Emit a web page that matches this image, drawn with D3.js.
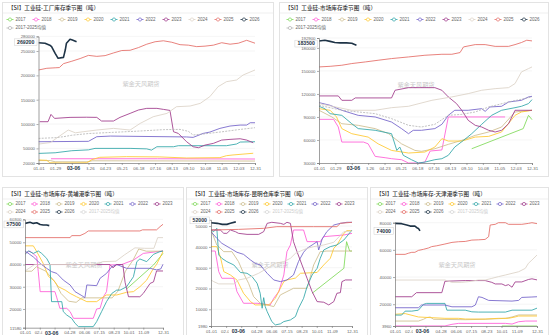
<!DOCTYPE html>
<html>
<head>
<meta charset="utf-8">
<script src="https://cdn.jsdelivr.net/npm/d3@7"></script>
<style>
  body { margin: 0; background: #fff; }
  svg { display: block; font-family: "Liberation Sans", "Noto Sans CJK SC", sans-serif; }
</style>
</head>
<body>
<svg id="chart" width="550" height="335"></svg>
<script>
// ---- data: [day of year (0 = 01-01), tonnes] ----
const years = ['2017', '2018', '2019', '2020', '2021', '2022', '2023', '2024', '2025', '2026'];
const meanLabel = '2017-2025均值';
const xTicksWeekly = ['01-01', '01-29', '02-26', '03-26', '04-23', '05-21', '06-18', '07-16', '08-13', '09-10', '10-08', '11-05', '12-03', '12-31'];
const xTicksPort = ['01-01', '02-09', '03-20', '04-28', '06-06', '07-15', '08-23', '10-01', '11-09', '12-31'];
const markDay = '03-06';

// 工厂库存
const fac2017 = [];
const fac2018 = [[21,28700],[200,28700],[364,28200]];
const fac2019 = [[0,25000],[20,25000],[28,22500],[84,22500],[90,24500],[364,24000]];
const fac2020 = [[0,26200],[14,25500],[19,20500],[40,20000],[81,20500],[90,27000],[103,31700],[148,33000],[204,32500],[249,30300],[305,31000],[316,35000],[327,36500],[361,40000]];
const fac2021 = [[0,39700],[28,41000],[56,45200],[84,47000],[95,50000],[154,50000],[182,49000],[190,46500],[199,53400],[227,53400],[235,55500],[316,55500],[333,59000],[339,63000],[364,63700]];
const fac2022 = [[0,63700],[84,64500],[98,74000],[121,75300],[249,73500],[260,72600],[277,80800],[288,83500],[305,91100],[322,95900],[339,97900],[350,97900],[356,102700],[364,102700]];
const fac2023 = [[2,104800],[16,104800],[21,119800],[27,111600],[53,113700],[81,114000],[98,113700],[106,106200],[126,106200],[137,113700],[154,121900],[168,128800],[182,132200],[199,132200],[210,130100],[221,128000],[227,84200],[235,80800],[249,63700],[260,53400],[269,51400],[280,56800],[294,60300],[308,67100],[322,68500],[339,69800],[350,67100],[361,61600]];
const fac2024 = [[0,58900],[20,62000],[35,75000],[50,87700],[62,82000],[75,84200],[98,87700],[126,91100],[154,87700],[171,101400],[193,115100],[216,121900],[232,135600],[255,137000],[272,142500],[288,156200],[302,176700],[316,187000],[333,190400],[344,200700],[364,211000]];
const fac2025 = [[0,211000],[14,214500],[28,215500],[35,216000],[42,224000],[56,229000],[70,234500],[84,241000],[98,239000],[112,240500],[126,246000],[140,251000],[154,251500],[168,257000],[182,264000],[196,269000],[210,271000],[224,268000],[238,263000],[252,262000],[266,259000],[280,260000],[294,262000],[308,267000],[322,264000],[336,266000],[350,272000],[364,266000]];
const fac2026 = [[0,267000],[11,266000],[19,262000],[22,259000],[28,245000],[33,235000],[42,237000],[45,252000],[47,266000],[53,274000],[57,272600],[64,269200]];
const facMean = [[0,70500],[28,72000],[42,74000],[56,77000],[84,80500],[126,83000],[168,85500],[210,88500],[238,89000],[252,85000],[260,77500],[280,80000],[308,84000],[336,88500],[364,92500]];

// 市场库存
const mkt2017 = [[261,48600],[349,74800],[358,92100],[364,86500]];
const mkt2018 = [[0,86900],[25,86900],[33,76900],[39,57300],[76,57300],[84,55000],[96,38600],[113,36900],[124,35600],[141,34300],[153,30000],[170,30000],[181,31200],[190,45600],[210,47000],[221,90000],[318,90000]];
const mkt2019 = [[0,98700],[22,90000],[39,81200],[67,79100],[96,74800],[119,68200],[141,55000],[164,46400],[175,45200],[198,48600],[221,54300],[244,59500],[267,66000],[290,70400],[312,76900],[335,96500],[364,98700]];
const mkt2020 = [[0,100800],[19,98700],[30,90000],[39,74800],[56,68200],[84,63800],[101,55000],[124,46400],[153,43000],[181,44300],[198,50800],[210,61700],[221,58600],[244,58600],[267,63800],[290,64700],[312,70400],[335,92100],[346,96500],[364,98700]];
const mkt2021 = [[0,103900],[10,100800],[19,94300],[39,92100],[56,81200],[67,74800],[96,72600],[124,68200],[133,46400],[138,50800],[144,40000],[158,34300],[170,30000],[181,31200],[198,34300],[210,35600],[221,40000],[232,50800],[247,59500],[261,68200],[278,80400],[295,92100],[312,98700],[335,102100],[346,103900],[358,107400],[364,112600]];
const mkt2022 = [[0,108700],[19,105200],[39,98700],[67,92100],[96,90000],[124,83400],[141,74800],[153,68200],[161,72600],[175,72600],[198,74800],[210,80400],[221,92100],[232,98700],[255,98700],[278,100800],[284,97300],[292,103000],[312,103900],[324,109500],[346,111700],[358,116100],[364,116900]];
const mkt2023 = [[0,117400],[33,117400],[39,111700],[56,111700],[62,114800],[124,114800],[130,124800],[153,128200],[198,128200],[210,124800],[221,116100],[235,107400],[244,98700],[255,85600],[267,79100],[278,76900],[290,72600],[301,70400],[312,72600],[324,81200],[335,98700],[364,98700]];
const mkt2024 = [[0,107400],[56,98700],[96,98700],[124,102100],[153,103900],[193,111700],[227,116100],[255,120400],[278,124800],[301,126900],[324,128200],[335,133500],[346,148700],[358,153000],[364,155200]];
const mkt2025 = [[0,155200],[19,156000],[39,157400],[56,159600],[79,161700],[101,163900],[124,166100],[153,168200],[181,170400],[210,171700],[227,171700],[241,173900],[247,181300],[267,184300],[284,184300],[301,182000],[324,182000],[335,184300],[346,187000],[355,190000],[364,189100]];
const mkt2026 = [[0,189000],[10,190000],[19,188500],[27,187000],[36,186500],[47,186500],[56,186000],[64,183500]];
const mktMean = [[0,105200],[39,98700],[96,94300],[124,87800],[153,79100],[175,76900],[198,80400],[221,92100],[244,93400],[267,96500],[290,103000],[324,109500],[364,116100]];

// 黄埔港
const hp2017 = [[268,29000],[339,39800],[364,45000]];
const hp2018 = [[0,45000],[13,46100],[31,43500],[35,36800],[40,27800],[79,27800],[84,25000],[92,20300],[110,20300],[119,18800],[128,15800],[180,15800],[189,20000],[198,20300],[207,25500],[215,27800],[224,39800],[255,40000],[286,42000],[312,45000],[364,46100]];
const hp2019 = [[0,37000],[18,37000],[30,39000],[55,37000],[80,32000],[95,27000],[115,23500],[135,23000],[150,25000],[230,25000],[245,28000],[265,37000],[285,42000],[300,47000],[320,46000],[364,46000]];
const hp2020 = [[0,48400],[22,48400],[31,45800],[48,40500],[62,34600],[75,33000],[88,30000],[106,28500],[119,27000],[136,25500],[163,23300],[189,23300],[207,25500],[215,26300],[242,26300],[268,27500],[286,27800],[303,30000],[321,33000],[339,38300],[347,40000],[364,45800]];
const hp2021 = [[0,44600],[9,46100],[22,45000],[35,46100],[44,45000],[57,42800],[66,40000],[70,23300],[97,23300],[101,18800],[110,17300],[123,15800],[132,13550],[141,12050],[180,12050],[189,14300],[202,18800],[215,23300],[229,27000],[242,28500],[251,28500],[268,30000],[286,34500],[295,41300],[303,42500],[321,41300],[339,44600],[356,45800],[364,46100]];
const hp2022 = [[0,46100],[22,43400],[40,40500],[57,38300],[70,36800],[84,36000],[101,33000],[119,30800],[132,27800],[150,26000],[158,25100],[163,30800],[189,30500],[198,33800],[215,36000],[229,39000],[242,40000],[268,38300],[330,38300],[347,37600],[358,38000],[364,40100]];
const hp2023 = [[0,40000],[224,40000],[232,38500],[242,40000],[258,40000],[264,32000],[273,25500],[303,25500],[312,27000],[330,31500],[339,32200],[347,37100],[364,37100]];
const hp2024 = [[0,37100],[25,40000],[185,40000],[205,41300],[240,41500],[262,44300],[290,47500],[315,47300],[340,47300],[350,52100],[364,52100]];
const hp2025 = [[0,52100],[119,52100],[123,53000],[145,53000],[158,54000],[167,55100],[303,55100],[310,55600],[347,55600],[356,57000],[364,58100]];
const hp2026 = [[0,58500],[13,59000],[22,58500],[31,58800],[40,58000],[48,57800],[57,57800],[64,57500]];

// 昆明仓库
const km2017 = [[261,17700],[343,29700],[350,42500],[358,38000],[364,38000]];
const km2018 = [[0,38000],[11,38000],[20,28100],[28,24900],[59,24900],[67,18500],[84,12900],[119,12900],[153,12100],[162,15300],[175,18500],[188,26500],[196,37700],[205,40900],[213,48100],[239,48100],[248,42500],[282,42500],[291,44900],[343,45700],[364,46500]];
const km2019 = [[0,48100],[15,40900],[33,37700],[54,37700],[71,32900],[84,27300],[97,22500],[110,16100],[127,12900],[145,12100],[162,11300],[179,16900],[196,18500],[213,20100],[248,20100],[265,31300],[282,37700],[299,38000],[364,38000]];
const km2020 = [[0,40100],[15,40100],[24,35300],[33,28100],[50,26500],[67,24100],[84,17700],[102,13700],[114,12100],[149,12100],[166,15300],[179,20100],[188,23300],[196,24100],[218,25000],[231,27300],[274,27700],[291,31300],[308,34500],[317,39300],[325,40900],[343,46500],[351,47800],[364,47800]];
const km2021 = [[0,48100],[7,47300],[15,48900],[20,36100],[28,34500],[41,32900],[59,31300],[76,27700],[93,27300],[106,25700],[119,22500],[127,17700],[132,10500],[136,15600],[140,11300],[145,8900],[157,4100],[166,2500],[179,3000],[188,4100],[205,4900],[218,6500],[226,10500],[239,15300],[248,20900],[261,26500],[274,29700],[282,34500],[291,38500],[308,40100],[325,40900],[343,43300],[355,46000],[364,48100]];
const km2022 = [[0,47300],[15,44100],[28,41700],[50,39300],[67,37400],[84,36400],[102,33700],[114,32100],[127,31300],[145,27300],[162,24100],[179,23300],[196,24100],[213,26500],[226,33000],[239,37400],[248,39300],[261,40900],[274,42500],[278,38500],[287,43800],[299,47300],[317,50500],[334,51300],[351,51800],[364,51800]];
const km2023 = [[0,48100],[24,48100],[33,46500],[41,46500],[50,48100],[63,47300],[71,46500],[93,46000],[123,46000],[136,47300],[145,51300],[157,51800],[179,51300],[188,50800],[196,51800],[205,51300],[213,42500],[222,37700],[235,31300],[248,24900],[261,18500],[274,13700],[291,13400],[304,12100],[317,13700],[325,17700],[334,18000],[338,23300],[347,24100],[364,24100]];
const km2024 = [[0,24100],[7,23300],[20,22200],[59,22200],[71,24100],[93,24900],[123,27300],[145,29700],[166,32100],[188,32900],[205,34500],[218,36900],[231,38000],[248,39300],[265,40100],[291,40900],[317,42200],[343,47300],[364,47600]];
const km2025 = [[0,48100],[71,48400],[136,48900],[170,49700],[265,49700],[325,49700],[334,51300],[364,51800]];
const km2026 = [[0,51600],[16,51300],[29,50800],[41,50800],[50,51300],[64,52000]];

// 天津港
const tj2017 = [[274,3960],[364,3960]];
const tj2018 = [[0,4000],[128,4000],[146,5200],[163,5900],[283,5900],[300,5400],[317,7100],[335,7600],[364,7600]];
const tj2019 = [[0,7600],[60,7600],[73,8900],[81,10100],[90,10600],[99,8900],[180,8600],[231,8900],[283,9600],[300,10600],[317,12100],[364,12100]];
const tj2020 = [[0,12600],[26,13100],[60,10600],[94,10100],[128,9600],[163,9600],[180,9100],[231,9100],[265,9600],[291,9600],[308,10600],[317,11300],[364,11300]];
const tj2021 = [[0,12000],[17,12000],[26,14900],[43,14900],[60,15600],[73,19900],[81,20600],[128,20600],[133,15600],[180,15600],[197,14400],[214,14200],[283,14200],[300,15600],[351,15600],[364,17100]];
const tj2022 = [[0,17400],[60,17400],[68,19400],[128,19400],[146,18100],[197,18100],[206,19400],[214,25500],[223,25000],[240,22800],[300,22300],[317,22800],[325,25000],[351,25300],[364,25500]];
const tj2023 = [[0,25500],[43,25500],[55,28500],[120,28500],[128,36900],[180,37400],[231,37400],[248,36100],[257,34900],[274,34900],[283,33700],[291,34400],[300,32500],[308,36400],[325,36400],[342,38200],[351,38700],[364,37900]];
const tj2024 = [[0,37800],[128,37800],[146,36100],[171,36100],[188,36600],[214,37800],[231,37800],[248,39000],[265,40300],[283,41500],[300,42700],[317,43900],[334,46400],[342,50100],[351,52500],[364,56200]];
const tj2025 = [[0,56700],[26,56700],[34,57500],[43,58200],[51,58200],[60,59600],[73,60400],[86,61400],[94,62400],[107,63000],[128,64300],[146,65500],[163,66000],[180,66200],[197,67200],[214,67400],[231,67700],[240,69700],[244,78300],[257,78800],[265,80000],[283,80000],[291,78800],[325,78800],[342,79500],[351,80000],[364,79300]];
const tj2026 = [[0,79500],[17,79300],[30,78300],[39,77500],[51,77500],[56,76300],[60,75800],[64,74000]];

// ---- styles / layout ----
const yearColors = ['#7ed957', '#ff5bd6', '#cdbd8e', '#ffc82e', '#2fa5a8', '#7161c9', '#9e3789', '#dcd2c6', '#e46b65', '#1e3346'];
const meanColor = '#b3b3b3';
const navy = '#1e3346';

const panels = [
  { title: '【SI】工业硅-工厂库存季节图（吨）',
    series: [fac2017, fac2018, fac2019, fac2020, fac2021, fac2022, fac2023, fac2024, fac2025, fac2026], mean: facMean, showMean: true,
    yTicks: [20000, 50000, 100000, 150000, 200000, 250000, 280000], yMax: 280000, xTicks: xTicksWeekly,
    box: [2, 2, 273, 176], xr: [38.5, 255], yr: [163, 36.4], titleY: 8, mark: [-12, 10, -3], tagShift: 0.6,
    legend: { x: 10, y: 19.5, step: 26, perRow: 10, dy: 8.5 }, water: [141, 84] },
  { title: '【SI】工业硅-市场库存季节图（吨）',
    series: [mkt2017, mkt2018, mkt2019, mkt2020, mkt2021, mkt2022, mkt2023, mkt2024, mkt2025, mkt2026], mean: mktMean, showMean: true,
    yTicks: [30000, 60000, 90000, 120000, 150000, 180000, 192900], yMax: 192900, xTicks: xTicksWeekly,
    box: [279, 2, 548, 176], xr: [319, 532], yr: [163, 38], titleY: 8, mark: [-12, 10, -3], tagShift: -1.6,
    legend: { x: 290, y: 19.5, step: 26, perRow: 10, dy: 8.5 }, water: [416, 85] },
  { title: '【SI】工业硅-市场库存-黄埔港季节图（吨）',
    series: [hp2017, hp2018, hp2019, hp2020, hp2021, hp2022, hp2023, hp2024, hp2025, hp2026], mean: null, showMean: false,
    yTicks: [11580, 20000, 30000, 40000, 50000, 60300], yMax: 60300, xTicks: xTicksPort,
    box: [2, 187, 183, 338], xr: [25, 163], yr: [327.7, 219.4], titleY: 194, mark: [-7, 13, 2.5], tagShift: -1.2,
    legend: { x: 10, y: 204, step: 24.5, perRow: 7, dy: 8 }, water: [84, 265] },
  { title: '【SI】工业硅-市场库存-昆明仓库季节图（吨）',
    series: [km2017, km2018, km2019, km2020, km2021, km2022, km2023, km2024, km2025, km2026], mean: null, showMean: false,
    yTicks: [1980, 10000, 20000, 30000, 40000, 50000], yMax: 53000, xTicks: xTicksPort,
    box: [186, 187, 367, 338], xr: [211, 352], yr: [326, 219.8], titleY: 194, mark: [-7, 13, 2.5], tagShift: -1.5,
    legend: { x: 195, y: 204, step: 24, perRow: 7, dy: 8 }, water: [270, 265] },
  { title: '【SI】工业硅-市场库存-天津港季节图（吨）',
    series: [tj2017, tj2018, tj2019, tj2020, tj2021, tj2022, tj2023, tj2024, tj2025, tj2026], mean: null, showMean: false,
    yTicks: [3960, 20000, 40000, 60000, 80000], yMax: 80000, xTicks: xTicksPort,
    box: [370, 187, 548, 338], xr: [395, 537], yr: [326, 222.7], titleY: 194, mark: [-7, 13, 2.5], tagShift: 0,
    legend: { x: 380, y: 204, step: 24, perRow: 7, dy: 8 }, water: [457, 265] }
];

const svg = d3.select('#chart');
const parseMD = d3.timeParse('%m-%d');
const dayOf = s => { const t = parseMD(s); return d3.timeDay.count(d3.timeYear(t), t); };

panels.forEach((p, pi) => {
  const g = svg.append('g');
  const [bx0, by0, bx1, by1] = p.box;

  g.append('rect')
    .attr('x', bx0 + 0.5).attr('y', by0 + 0.5)
    .attr('width', bx1 - bx0).attr('height', by1 - by0)
    .attr('fill', '#fff').attr('stroke', '#e3e3e3');

  g.append('text')
    .attr('x', bx0 + 6).attr('y', p.titleY)
    .attr('dominant-baseline', 'middle')
    .attr('font-family', '"Noto Sans CJK SC", sans-serif')
    .attr('font-size', 5.6).attr('font-weight', 500).attr('fill', '#333')
    .text(p.title);

  g.append('line')
    .attr('x1', bx0 + 1).attr('x2', bx1)
    .attr('y1', p.titleY + 5).attr('y2', p.titleY + 5)
    .attr('stroke', '#efefef');

  // legend
  const items = years.map((yr, i) => ({ label: yr, color: yearColors[i], on: true }))
    .concat([{ label: meanLabel, color: meanColor, on: p.showMean }]);
  items.forEach((it, i) => {
    const row = i < p.legend.perRow ? 0 : 1;
    const col = row === 0 ? i : i - p.legend.perRow;
    const cx = p.legend.x + col * p.legend.step;
    const cy = p.legend.y + row * p.legend.dy;
    const c = it.on ? it.color : '#d6d6d6';
    g.append('line').attr('x1', cx - 3.5).attr('x2', cx + 3.5).attr('y1', cy).attr('y2', cy)
      .attr('stroke', c).attr('stroke-width', 0.8);
    g.append('circle').attr('cx', cx).attr('cy', cy).attr('r', 1.6)
      .attr('fill', '#fff').attr('stroke', c).attr('stroke-width', 0.7);
    g.append('text').attr('x', cx + 5.5).attr('y', cy)
      .attr('dominant-baseline', 'middle')
      .attr('font-size', 4.5).attr('fill', it.on ? '#666' : '#ccc')
      .text(it.label);
  });

  const x = d3.scaleLinear().domain([0, 364]).range(p.xr);
  const y = d3.scaleLinear().domain([p.yTicks[0], p.yMax]).range(p.yr);

  // grid
  g.append('g').selectAll('line').data(p.yTicks.slice(1)).join('line')
    .attr('x1', p.xr[0]).attr('x2', p.xr[1])
    .attr('y1', d => y(d)).attr('y2', d => y(d))
    .attr('stroke', '#eeeeee').attr('stroke-width', 0.6);

  // watermark
  g.append('text')
    .attr('x', p.water[0]).attr('y', p.water[1])
    .attr('text-anchor', 'middle').attr('dominant-baseline', 'middle')
    .attr('font-family', '"Noto Sans CJK SC", sans-serif')
    .attr('font-size', 6.2).attr('fill', '#c9c9c9')
    .text('紫金天风期货');

  // series
  const clipId = 'clip' + pi;
  g.append('clipPath').attr('id', clipId).append('rect')
    .attr('x', p.xr[0]).attr('y', p.yr[1] - 2)
    .attr('width', p.xr[1] - p.xr[0] + 2).attr('height', p.yr[0] - p.yr[1] + 3);
  const plot = g.append('g').attr('clip-path', `url(#${clipId})`);
  const line = d3.line().x(d => x(d[0])).y(d => y(d[1]));

  p.series.forEach((s, i) => {
    if (i === 9 && p.showMean) {
      plot.append('path').datum(p.mean).attr('d', line)
        .attr('fill', 'none').attr('stroke', meanColor)
        .attr('stroke-width', 0.8).attr('stroke-dasharray', '2,1.2');
    }
    if (!s.length) return;
    plot.append('path').datum(s).attr('d', line)
      .attr('fill', 'none').attr('stroke', yearColors[i])
      .attr('stroke-width', i === 9 ? 1.6 : 0.85)
      .attr('stroke-linejoin', 'round');
  });

  // axes
  const ya = g.append('g').attr('transform', `translate(${p.xr[0]},0)`)
    .call(d3.axisLeft(y).tickValues(p.yTicks).tickSize(2).tickPadding(1.5).tickFormat(d3.format('d')));
  ya.select('.domain').attr('stroke', '#777').attr('stroke-width', 0.7);
  ya.selectAll('.tick line').attr('stroke', '#777').attr('stroke-width', 0.6);
  ya.selectAll('text').attr('font-size', 4.3).attr('fill', '#666');

  // highlighted current date on x axis; labels fully under its box are hidden
  const mx = x(dayOf(markDay));
  const boxL = mx + p.mark[0], boxR = mx + p.mark[1];
  const tickDays = p.xTicks.map(dayOf);
  const xa = g.append('g').attr('transform', `translate(0,${p.yr[0]})`)
    .call(d3.axisBottom(x).tickValues(tickDays).tickSize(2).tickPadding(1.5).tickFormat((d, i) => p.xTicks[i]));
  xa.select('.domain').attr('stroke', '#777').attr('stroke-width', 0.7);
  xa.selectAll('.tick line').attr('stroke', '#777').attr('stroke-width', 0.6);
  xa.selectAll('text').attr('font-size', 4.4).attr('fill', '#666')
    .filter(d => x(d) - 5 >= boxL && x(d) + 5 <= boxR).remove();

  g.append('rect').attr('x', boxL).attr('y', p.yr[0] + 2.2).attr('width', boxR - boxL).attr('height', 7).attr('fill', '#fff');
  g.append('text').attr('x', mx + p.mark[2]).attr('y', p.yr[0] + 5.8)
    .attr('text-anchor', 'middle').attr('dominant-baseline', 'middle')
    .attr('font-size', 5.2).attr('font-weight', 'bold').attr('fill', navy)
    .text(markDay);

  // highlighted latest value on y axis
  const cur = p.series[9];
  const last = cur[cur.length - 1][1];
  const ly = y(last) + p.tagShift;
  const lbl = d3.format('d')(last);
  const bw = lbl.length * 3.1 + 4;
  g.append('rect').attr('x', p.xr[0] - 1.5 - bw).attr('y', ly - 3.4).attr('width', bw).attr('height', 6.8)
    .attr('fill', '#fff').attr('stroke', '#d0d0d0').attr('stroke-width', 0.5);
  g.append('text').attr('x', p.xr[0] - 1.5 - bw / 2).attr('y', ly + 0.3)
    .attr('text-anchor', 'middle').attr('dominant-baseline', 'middle')
    .attr('font-size', 5.2).attr('font-weight', 'bold').attr('fill', navy)
    .text(lbl);
});
</script>
</body>
</html>
